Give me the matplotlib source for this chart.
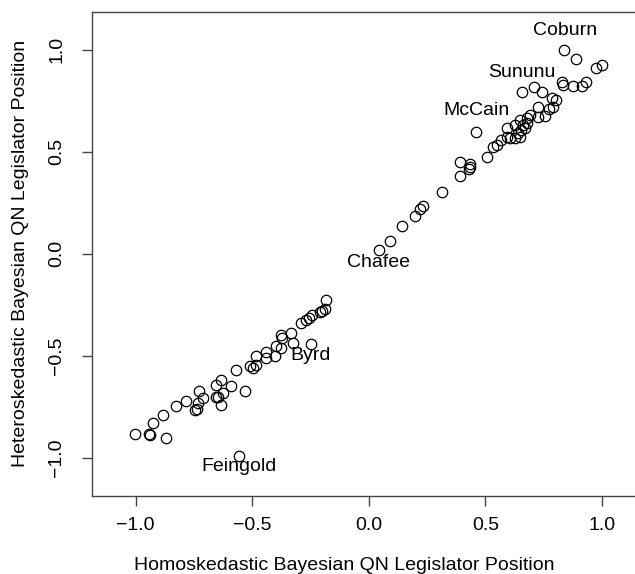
import matplotlib
matplotlib.use('Agg')
import matplotlib.pyplot as plt

# Legislator positions: homoskedastic (x) vs heteroskedastic (y) Bayesian QN estimates
homo = [0.838, 0.887, 0.973, 0.999, 0.827, 0.834, 0.874, 0.913, 0.930,
        0.657, 0.707, 0.745, 0.784, 0.801, 0.791, 0.724, 0.774, 0.755, 0.727,
        0.691, 0.677, 0.648, 0.627, 0.662, 0.677, 0.591, 0.655, 0.641, 0.670,
        0.462, 0.591, 0.605, 0.627, 0.648, 0.569, 0.548, 0.534, 0.508,
        0.391, 0.433, 0.436, 0.430, 0.391, 0.316,
        0.233, 0.219, 0.197, 0.143, 0.090, 0.044,
        -0.185, -0.189, -0.199, -0.207, -0.242, -0.256, -0.267, -0.289,
        -0.332, -0.375, -0.370, -0.325, -0.246, -0.396, -0.375, -0.439,
        -0.482, -0.442, -0.403, -0.511, -0.497, -0.485, -0.568, -0.632,
        -0.654, -0.589, -0.529, -0.625, -0.654, -0.647, -0.632, -0.728,
        -0.711, -0.733, -0.747, -0.735, -0.783, -0.825, -0.883, -0.926,
        -0.940, -0.943, -1.004, -0.871, -0.557]
hetero = [1.000, 0.954, 0.910, 0.926, 0.845, 0.828, 0.824, 0.824, 0.845,
          0.796, 0.817, 0.796, 0.766, 0.755, 0.722, 0.722, 0.709, 0.676, 0.673,
          0.681, 0.665, 0.657, 0.632, 0.632, 0.640, 0.616, 0.608, 0.592, 0.616,
          0.595, 0.575, 0.567, 0.567, 0.572, 0.559, 0.534, 0.523, 0.477,
          0.452, 0.441, 0.428, 0.415, 0.384, 0.302,
          0.232, 0.219, 0.186, 0.134, 0.064, 0.020,
          -0.229, -0.271, -0.283, -0.286, -0.299, -0.315, -0.327, -0.340,
          -0.389, -0.397, -0.413, -0.438, -0.441, -0.451, -0.462, -0.484,
          -0.503, -0.511, -0.500, -0.552, -0.560, -0.544, -0.572, -0.618,
          -0.642, -0.647, -0.672, -0.683, -0.702, -0.702, -0.740, -0.675,
          -0.708, -0.732, -0.765, -0.761, -0.724, -0.748, -0.789, -0.830,
          -0.887, -0.882, -0.884, -0.904, -0.990]

# Labelled senators and where their names sit
names = ['Coburn', 'Sununu', 'McCain', 'Chafee', 'Byrd', 'Feingold']
name_x = [0.841, 0.657, 0.464, 0.043, -0.249, -0.558]
name_y = [1.093, 0.887, 0.701, -0.044, -0.500, -1.044]

plt.rcParams['font.family'] = ['Liberation Sans', 'DejaVu Sans']

fig = plt.figure(figsize=(6.35, 5.74), dpi=100)
ax = fig.add_axes([0.1444, 0.1359, 0.8726, 0.8439])

ax.plot(homo, hetero, 'o', mfc='none', mec='black', ms=7.5, mew=0.9)
for n, tx, ty in zip(names, name_x, name_y):
    ax.text(tx, ty, n, ha='center', va='center', fontsize=14)

ax.set_xlim(-1.188, 1.188)
ax.set_ylim(-1.188, 1.188)
ticks = [-1.0, -0.5, 0.0, 0.5, 1.0]
ax.set_xticks(ticks)
ax.set_yticks(ticks)
ax.set_xticklabels(['{:.1f}'.format(t).replace('-', '\u2212') for t in ticks])
ax.set_yticklabels(['{:.1f}'.format(t).replace('-', '\u2212') for t in ticks],
                   rotation=90, va='center')
ax.tick_params(axis='both', direction='out', length=7, width=1, colors='#444444',
               labelcolor='black', labelsize=14)
ax.tick_params(axis='x', pad=8)
ax.tick_params(axis='y', pad=12)
for s in ax.spines.values():
    s.set_color('#444444')
    s.set_linewidth(1)

ax.set_xlabel('Homoskedastic Bayesian QN Legislator Position', fontsize=14)
ax.xaxis.set_label_coords(0.456, -0.125)
ax.set_ylabel('Heteroskedastic Bayesian QN Legislator Position', fontsize=14, labelpad=14)

fig.savefig('out.png', dpi=100)
